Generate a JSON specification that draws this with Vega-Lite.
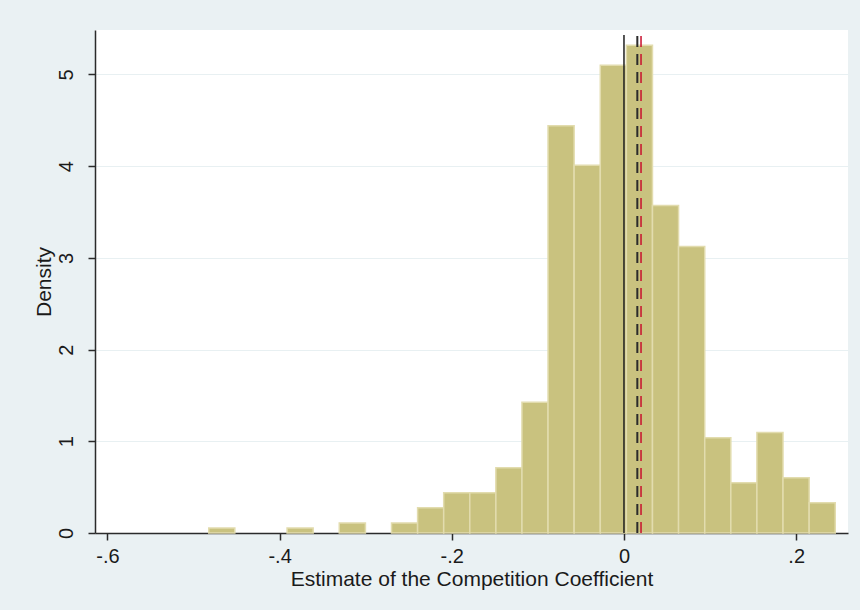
{
  "$schema": "https://vega.github.io/schema/vega-lite/v6.json",
  "width": 753,
  "height": 503,
  "autosize": "none",
  "padding": {"left": 95, "top": 30, "right": 12, "bottom": 77},
  "background": "#EAF1F3",
  "config": {
    "view": {"stroke": null, "fill": "#FFFFFF"},
    "axis": {
      "domainColor": "#2b2b2b",
      "domainWidth": 1.5,
      "tickColor": "#2b2b2b",
      "tickWidth": 1.5,
      "tickSize": 7,
      "labelFont": "Liberation Sans",
      "labelFontSize": 20,
      "labelColor": "#1a1a1a",
      "titleFont": "Liberation Sans",
      "titleFontSize": 21,
      "titleFontWeight": "normal",
      "titleColor": "#1a1a1a"
    }
  },
  "layer": [
    {
      "data": {
        "values": [
          {"x0": -0.4823, "x1": -0.4520, "density": 0.055},
          {"x0": -0.3913, "x1": -0.3610, "density": 0.055},
          {"x0": -0.3307, "x1": -0.3003, "density": 0.11},
          {"x0": -0.2700, "x1": -0.2397, "density": 0.11},
          {"x0": -0.2397, "x1": -0.2094, "density": 0.274},
          {"x0": -0.2094, "x1": -0.1791, "density": 0.438},
          {"x0": -0.1791, "x1": -0.1488, "density": 0.438},
          {"x0": -0.1488, "x1": -0.1185, "density": 0.712},
          {"x0": -0.1185, "x1": -0.0882, "density": 1.425},
          {"x0": -0.0882, "x1": -0.0579, "density": 4.44},
          {"x0": -0.0579, "x1": -0.0275, "density": 4.01},
          {"x0": -0.0275, "x1": 0.0028, "density": 5.10},
          {"x0": 0.0028, "x1": 0.0331, "density": 5.32},
          {"x0": 0.0331, "x1": 0.0634, "density": 3.57},
          {"x0": 0.0634, "x1": 0.0938, "density": 3.125},
          {"x0": 0.0938, "x1": 0.1241, "density": 1.04},
          {"x0": 0.1241, "x1": 0.1544, "density": 0.548},
          {"x0": 0.1544, "x1": 0.1847, "density": 1.096},
          {"x0": 0.1847, "x1": 0.2151, "density": 0.603},
          {"x0": 0.2151, "x1": 0.2454, "density": 0.329}
        ]
      },
      "mark": {"type": "bar", "fill": "#C9C27F", "stroke": "#E2DCAE", "strokeWidth": 1.5},
      "encoding": {
        "x": {
          "field": "x0",
          "type": "quantitative",
          "scale": {"domain": [-0.6144, 0.2602], "nice": false, "zero": false},
          "axis": {
            "values": [-0.6, -0.4, -0.2, 0, 0.2],
            "labelExpr": "datum.value == 0 ? '0' : (datum.value < 0 ? '-' : '') + replace(format(abs(datum.value), '.1f'), '0.', '.')",
            "labelPadding": 6,
            "titlePadding": 2,
            "grid": false,
            "title": "Estimate of the Competition Coefficient"
          }
        },
        "x2": {"field": "x1"},
        "y": {
          "field": "density",
          "type": "quantitative",
          "stack": null,
          "scale": {"domain": [0, 5.485], "nice": false},
          "axis": {
            "values": [0, 1, 2, 3, 4, 5],
            "format": "d",
            "labelAngle": -90,
            "labelAlign": "center",
            "labelBaseline": "bottom",
            "labelPadding": 12,
            "titlePadding": 2,
            "grid": true,
            "gridColor": "#E8F0F2",
            "gridWidth": 1,
            "title": "Density"
          }
        },
        "y2": {"datum": 0}
      }
    },
    {
      "data": {"values": [{"v": 0, "bottom": 0, "top": 5.43}]},
      "mark": {"type": "rule", "color": "#1f1f1f", "strokeWidth": 1.5},
      "encoding": {
        "x": {"field": "v", "type": "quantitative"},
        "y": {"field": "bottom", "type": "quantitative"},
        "y2": {"field": "top"}
      }
    },
    {
      "data": {"values": [{"v": 0.0155, "bottom": 0, "top": 5.43}]},
      "mark": {"type": "rule", "color": "#2b2b2b", "strokeWidth": 2, "strokeDash": [11, 7]},
      "encoding": {
        "x": {"field": "v", "type": "quantitative"},
        "y": {"field": "bottom", "type": "quantitative"},
        "y2": {"field": "top"}
      }
    },
    {
      "data": {"values": [{"v": 0.0198, "bottom": 0, "top": 5.46}]},
      "mark": {"type": "rule", "color": "#C8102E", "strokeWidth": 1.5, "strokeDash": [11, 7]},
      "encoding": {
        "x": {"field": "v", "type": "quantitative"},
        "y": {"field": "bottom", "type": "quantitative"},
        "y2": {"field": "top"}
      }
    }
  ]
}
